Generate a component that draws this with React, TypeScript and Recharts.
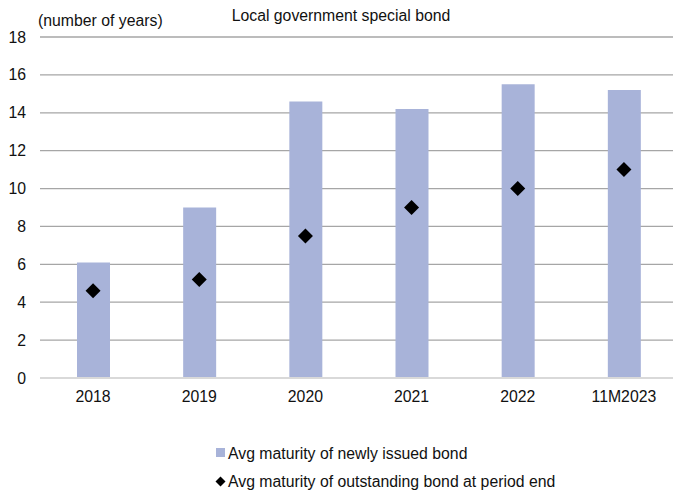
import React from 'react';
import { ComposedChart, Bar, Line, XAxis, YAxis, CartesianGrid } from 'recharts';

// 地方専項債の平均年限
const categories = ['2018', '2019', '2020', '2021', '2022', '11M2023'];
const newIssueMaturity = [6.1, 9.0, 14.6, 14.2, 15.5, 15.2];
const outstandingMaturity = [4.6, 5.2, 7.5, 9.0, 10.0, 11.0];
const yTicks = [0, 2, 4, 6, 8, 10, 12, 14, 16, 18];

const titleText = 'Local government special bond';
const unitText = '(number of years)';
const newIssueLabel = 'Avg maturity of newly issued bond';
const outstandingLabel = 'Avg maturity of outstanding bond at period end';

const BAR_COLOR = '#a8b3d9';
const FONT = '"Liberation Sans", Arial, sans-serif';
const FONT_SIZE = 15.8;

const chartData = categories.map((name, i) => ({
  name,
  newIssue: newIssueMaturity[i],
  outstanding: outstandingMaturity[i],
}));

// ひし形マーカー
const Diamond = (props: any) => {
  const { cx, cy, index } = props;
  if (cx == null || cy == null) return <g key={`d-${index}`} />;
  const r = 7.5;
  return (
    <polygon
      key={`d-${index}`}
      points={`${cx},${cy - r} ${cx + r},${cy} ${cx},${cy + r} ${cx - r},${cy}`}
      fill="#000"
    />
  );
};

export default function App() {
  return (
    <div
      style={{
        position: 'absolute',
        left: 0,
        top: 0,
        width: 673,
        height: 496,
        overflow: 'hidden',
        background: '#fff',
        fontFamily: FONT,
      }}
    >
      <ComposedChart
        width={690}
        height={496}
        data={chartData}
        margin={{ top: 37, right: 13, left: 0, bottom: 88 }}
      >
        <CartesianGrid vertical={false} stroke="#a6a6a6" strokeWidth={1.3} />
        <XAxis
          dataKey="name"
          axisLine={{ stroke: '#d9d9d9', strokeWidth: 2 }}
          tickLine={false}
          tickMargin={7}
          height={30}
          tick={{ fill: '#111', fontSize: FONT_SIZE, fontFamily: FONT }}
        />
        <YAxis
          domain={[0, 18]}
          ticks={yTicks}
          width={40}
          axisLine={false}
          tickLine={false}
          tickMargin={8}
          interval={0}
          tick={{ fill: '#111', fontSize: FONT_SIZE, fontFamily: FONT }}
        />
        <Bar dataKey="newIssue" fill={BAR_COLOR} barSize={33} isAnimationActive={false} />
        <Line
          dataKey="outstanding"
          stroke="none"
          dot={Diamond}
          activeDot={false}
          isAnimationActive={false}
        />
      </ComposedChart>

      {/* タイトルと凡例 */}
      <svg
        width={673}
        height={496}
        style={{ position: 'absolute', left: 0, top: 0, pointerEvents: 'none' }}
        fontFamily={FONT}
        fontSize={FONT_SIZE}
        fill="#111"
      >
        <text x={341} y={21} textAnchor="middle">{titleText}</text>
        <text x={38} y={26}>{unitText}</text>

        <rect x={216} y={448} width={9} height={9} fill={BAR_COLOR} />
        <text x={228} y={458.5}>{newIssueLabel}</text>

        <polygon points="220.5,476.5 225.5,481.5 220.5,486.5 215.5,481.5" fill="#000" />
        <text x={228} y={487}>{outstandingLabel}</text>
      </svg>
    </div>
  );
}
